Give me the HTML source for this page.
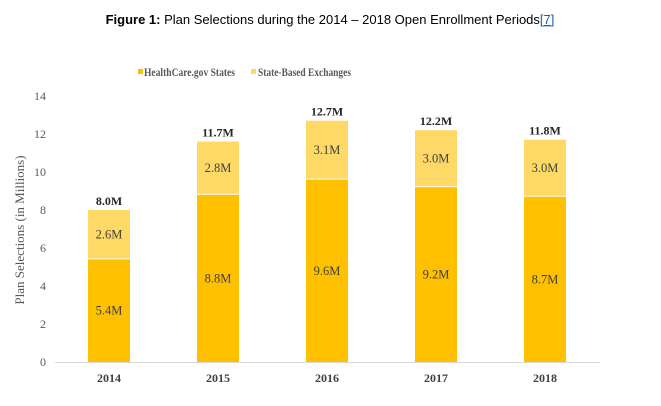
<!DOCTYPE html>
<html><head><meta charset="utf-8"><style>
body{margin:0;background:#fff;width:661px;height:406px;overflow:hidden}
svg{display:block}
</style></head><body>
<svg id="c" width="661" height="406" font-family="Liberation Serif, serif">
<text x="330" y="24" text-anchor="middle" font-family="Liberation Sans, sans-serif" font-size="13" fill="#000"><tspan font-weight="bold">Figure 1:</tspan> Plan Selections during the 2014 – 2018 Open Enrollment Periods<tspan fill="#1a5cb0" text-decoration="underline">[7]</tspan></text>
<g>
<rect x="138" y="69" width="5" height="5" fill="#FFC000"/>
<text x="144" y="76" font-size="12" font-weight="bold" fill="#595959" textLength="91" lengthAdjust="spacingAndGlyphs">HealthCare.gov States</text>
<rect x="251" y="69" width="5" height="5" fill="#FFD966"/>
<text x="258" y="76" font-size="12" font-weight="bold" fill="#595959" textLength="93" lengthAdjust="spacingAndGlyphs">State-Based Exchanges</text>
</g>
<text transform="translate(24,230) rotate(-90)" text-anchor="middle" font-size="13" fill="#595959">Plan Selections (in Millions)</text>
<g id="g"></g>
</svg>
<script>
const years=["2014","2015","2016","2017","2018"];
const hcgov=[5.4,8.8,9.6,9.2,8.7];
const sbe=[2.6,2.8,3.1,3.0,3.0];
const totals=["8.0M","11.7M","12.7M","12.2M","11.8M"];
const yTicks=[0,2,4,6,8,10,12,14];
const NS="http://www.w3.org/2000/svg";
const g=document.getElementById('g');
const y0=362,pxPer=19;
const y=v=>y0-v*pxPer;
const xc=i=>109+i*109;
const bw=42;
function mk(t,a,txt){const e=document.createElementNS(NS,t);for(const k in a)e.setAttribute(k,a[k]);if(txt!==undefined)e.textContent=txt;g.appendChild(e);return e;}
yTicks.forEach(t=>{
const e=mk('text',{x:46,y:y(t)+4,'text-anchor':'end','font-size':'12',fill:'#595959'},t);


});
const ax=mk('line',{x1:55,x2:600,y1:y0+0.5,y2:y0+0.5,stroke:'#d9d9d9','stroke-width':1});


years.forEach((yr,i)=>{
const x=xc(i)-bw/2;
const b1=mk('rect',{x:x,y:y(hcgov[i]),width:bw,height:hcgov[i]*pxPer,fill:'#FFC000'});


const b2=mk('rect',{x:x,y:y(hcgov[i]+sbe[i]),width:bw,height:sbe[i]*pxPer-1,fill:'#FFD966'});


const l1=mk('text',{x:xc(i),y:y(hcgov[i]/2)+4,'text-anchor':'middle','font-size':'12.5',fill:'#404040'},hcgov[i].toFixed(1)+'M');


const l2=mk('text',{x:xc(i),y:y(hcgov[i]+sbe[i]/2)+4,'text-anchor':'middle','font-size':'12.5',fill:'#404040'},sbe[i].toFixed(1)+'M');


const l3=mk('text',{x:xc(i),y:y(hcgov[i]+sbe[i])-5,'text-anchor':'middle','font-size':'12','font-weight':'bold',fill:'#262626'},totals[i]);


const xl=mk('text',{x:xc(i),y:382,'text-anchor':'middle','font-size':'12','font-weight':'bold',fill:'#404040'},yr);


});
</script>
</body></html>
